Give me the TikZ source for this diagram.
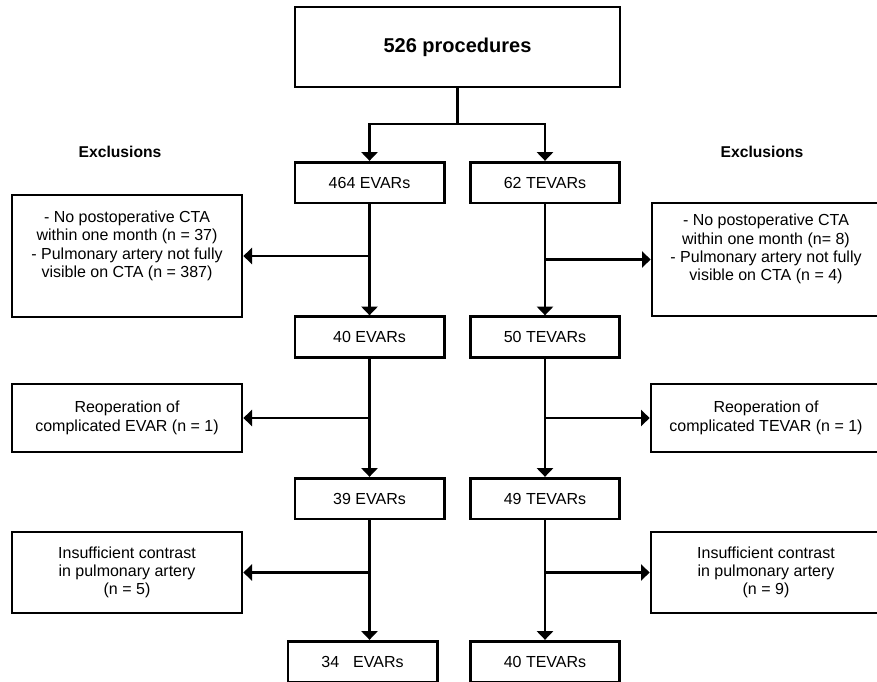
\documentclass[tikz,border=0pt]{standalone}
\usepackage{fontspec}
\setmainfont{Liberation Sans}
\usetikzlibrary{arrows.meta}

\begin{document}
\begin{tikzpicture}[x=0.75pt, y=-0.75pt, line width=2pt,
	box/.style={draw, align=center, inner sep=0pt, font=\fontsize{12}{13.75}\selectfont},
	small/.style={box, minimum width=112pt, minimum height=30.5pt},
	side/.style={box, minimum width=172.5pt},
	head/.style={font=\bfseries\fontsize{11.75}{13}\selectfont},
	arr/.style={->, >={Triangle[width=12pt, length=6.5pt]}}]
	\useasboundingbox (0, 0) rectangle (877, 681);
	\clip (0, 0) rectangle (877, 681);
	\node[box, minimum width=243.75pt, minimum height=60pt, font=\bfseries\fontsize{15}{17}\selectfont] (all) at (457.5, 47) {526 procedures};
	\node[head] (exclL) at (120, 152) {Exclusions};
	\node[head] (exclR) at (762, 152) {Exclusions};
	\node[small] (e0) at (369.5, 182.5) {464 EVARs};
	\node[small] (t0) at (545, 182.5) {62 TEVARs};
	\node[small] (e1) at (369.5, 337) {40 EVARs};
	\node[small] (t1) at (545, 337) {50 TEVARs};
	\node[small] (e2) at (369.5, 498.5) {39 EVARs};
	\node[small] (t2) at (545, 498.5) {49 TEVARs};
	\node[small] (e3) at (362.5, 661.5) {34\hspace{10.5pt}EVARs};
	\node[small] (t3) at (545, 661.5) {40 TEVARs};
	\node[side, minimum height=91.5pt] (xl1) at (127, 256) {- No postoperative CTA\\within one month (n = 37)\\- Pulmonary artery not fully\\visible on CTA (n = 387)\\\strut};
	\node[side, minimum width=171pt, minimum height=84.75pt] (xr1) at (766, 259.5) {- No postoperative CTA\\within one month (n= 8)\\- Pulmonary artery not fully\\visible on CTA (n = 4)\\\strut};
	\node[side, minimum height=51pt] (xl2) at (127, 418) {Reoperation of\\complicated EVAR (n = 1)};
	\node[side, minimum height=51pt] (xr2) at (766, 418) {Reoperation of\\complicated TEVAR (n = 1)};
	\node[side, minimum height=60.75pt] (xl3) at (127, 572.5) {Insufficient contrast\\in pulmonary artery\\(n = 5)};
	\node[side, minimum height=60.75pt] (xr3) at (766, 572.5) {Insufficient contrast\\in pulmonary artery\\(n = 9)};
	\coordinate (fork) at (457.5, 124);
	\draw (all.south) -- (fork);
	\draw[arr] (fork) -| (e0.north);
	\draw[arr] (fork) -| (t0.north);
	\foreach \a/\b/\x in {e0/e1/xl1, e1/e2/xl2, e2/e3/xl3} {
		\draw[arr] (\a.south) -- (\a.south |- \b.north);
		\draw[arr] (\a.south |- \x.east) -- (\x.east);
	}
	\foreach \a/\b/\x in {t0/t1/xr1, t1/t2/xr2, t2/t3/xr3} {
		\draw[arr] (\a.south) -- (\a.south |- \b.north);
		\draw[arr] (\a.south |- \x.west) -- (\x.west);
	}
\end{tikzpicture}
\end{document}
